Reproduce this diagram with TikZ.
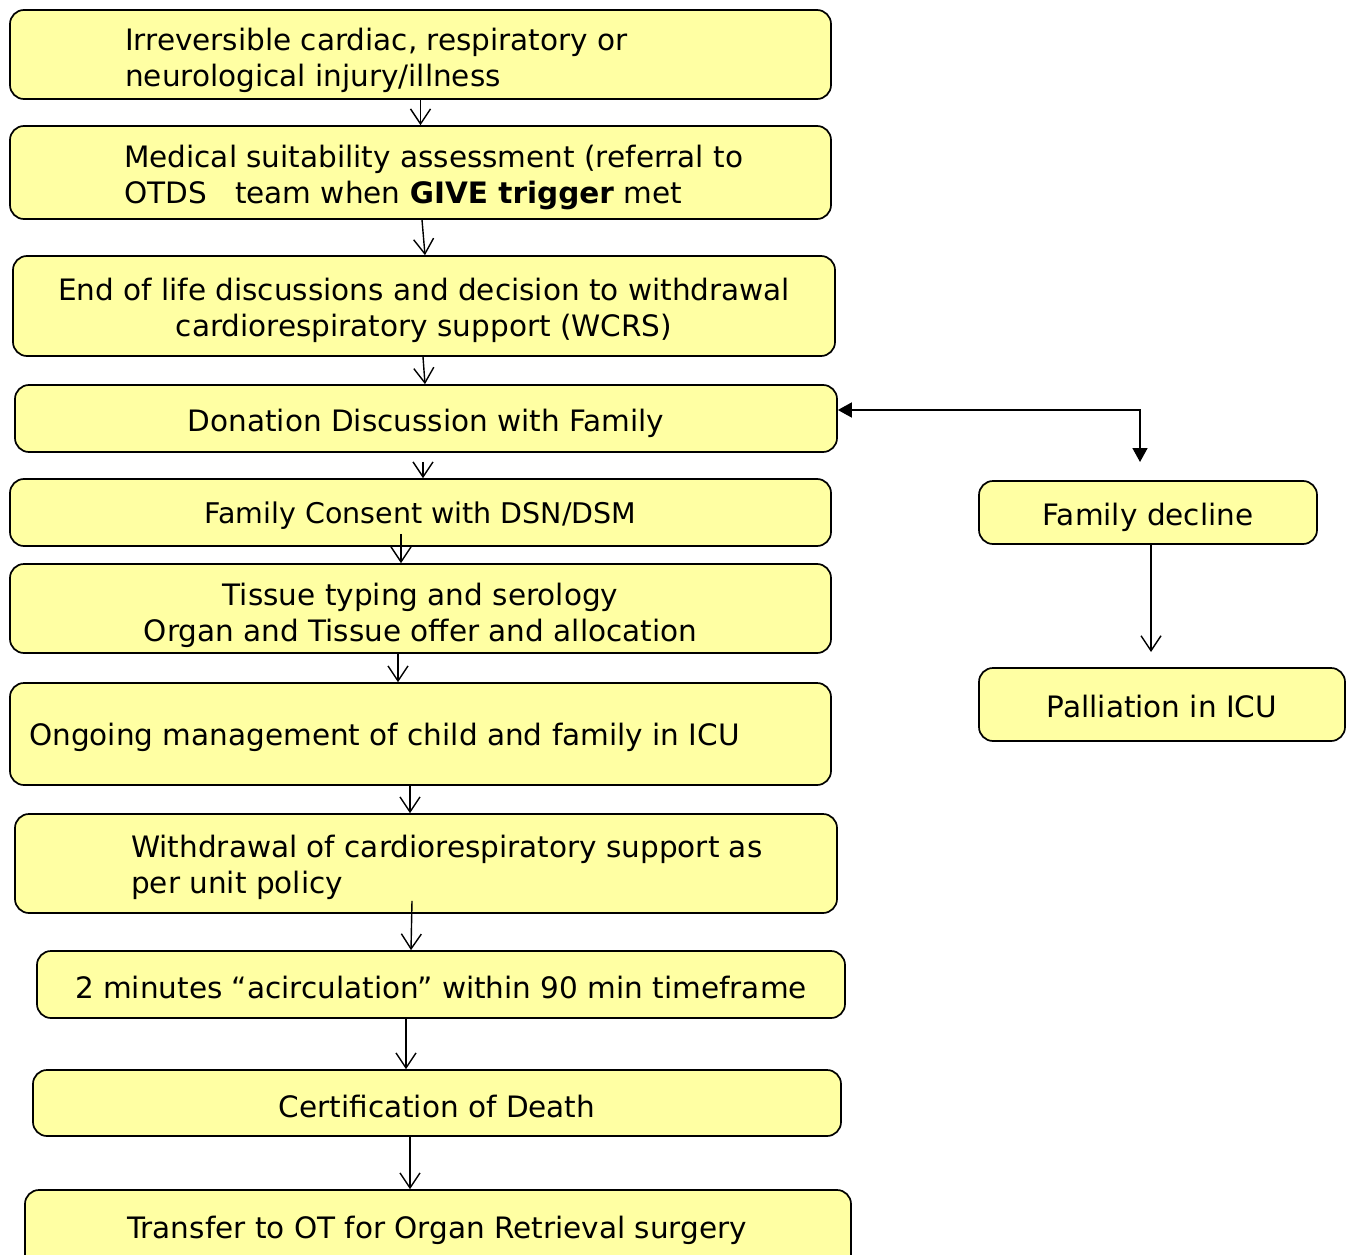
\documentclass[tikz,border=0pt]{standalone}
\usepackage{fontspec}
\setmainfont{DejaVu Sans}
\usetikzlibrary{arrows.meta}
\definecolor{boxfill}{HTML}{FFFFA3}
\tikzset{
  box/.style={draw=black, line width=1.7pt, rounded corners=14pt, fill=boxfill, inner sep=0pt},
  txt/.style={font=\fontsize{29.5}{36}\selectfont, align=left, inner sep=0pt},
  ctxt/.style={font=\fontsize{29.5}{36}\selectfont, align=center, inner sep=0pt},
  arr/.style={line width=1.4pt, -{Straight Barb[length=15pt,width=20pt,line width=1.4pt]}},
  farr/.style={line width=1.6pt, {Triangle[length=14pt,width=15pt]}-{Triangle[length=14pt,width=15pt]}}
}
\begin{document}
\begin{tikzpicture}[x=1pt,y=-1pt]
\useasboundingbox (0,0) rectangle (1353,1255);
\clip (0,0) rectangle (1353,1255);
\node[box, minimum width=821pt, minimum height=89pt] (b1) at (420.5,54.5) {};
\node[txt, anchor=west] (t1) at (125,60) {Irreversible cardiac, respiratory or\\neurological injury/illness};
\node[box, minimum width=821pt, minimum height=93pt] (b2) at (420.5,172.5) {};
\node[txt, anchor=west] (t2) at (124,177) {Medical suitability assessment (referral to\\OTDS\ \ \ team when \textbf{GIVE trigger} met};
\node[box, minimum width=822pt, minimum height=100pt] (b3) at (424,306) {};
\node[ctxt] (t3) at (424,310) {End of life discussions and decision to withdrawal\\cardiorespiratory support (WCRS)};
\node[box, minimum width=822pt, minimum height=67pt] (b4) at (426,418.5) {};
\node[ctxt] (t4) at (426,423.5) {Donation Discussion with Family};
\node[box, minimum width=821pt, minimum height=67pt] (b5) at (420.5,512.5) {};
\node[ctxt, font=\fontsize{28.5}{34}\selectfont] (t5) at (420.5,515.5) {Family Consent with DSN/DSM};
\node[box, minimum width=821pt, minimum height=89pt] (b6) at (420.5,608.5) {};
\node[ctxt] (t6) at (420.5,615) {Tissue typing and serology\\Organ and Tissue offer and allocation};
\node[box, minimum width=821pt, minimum height=102pt] (b7) at (420.5,734) {};
\node[txt, anchor=west] (t7) at (29,737) {Ongoing management of child and family in ICU};
\node[box, minimum width=822pt, minimum height=99pt] (b8) at (426,863.5) {};
\node[txt, anchor=west] (t8) at (131,867) {Withdrawal of cardiorespiratory support as\\per unit policy};
\node[box, minimum width=808pt, minimum height=67pt] (b9) at (441,984.5) {};
\node[ctxt] (t9) at (441,987.5) {2 minutes “acirculation” within 90 min timeframe};
\node[box, minimum width=808pt, minimum height=66pt] (b10) at (437,1103) {};
\node[ctxt] (t10) at (437,1106) {Certification of Death};
\node[box, minimum width=826pt, minimum height=80pt] (b11) at (438,1230) {};
\node[ctxt] (t11) at (437,1230) {Transfer to OT for Organ Retrieval surgery};
\node[box, minimum width=338pt, minimum height=63pt] (b12) at (1148,512.5) {};
\node[ctxt] (t12) at (1148,517) {Family decline};
\node[box, minimum width=366pt, minimum height=73pt] (b13) at (1162,704.5) {};
\node[ctxt] (t13) at (1162,706.5) {Palliation in ICU};
\coordinate (fd) at (1140,462);
\coordinate (pa) at (1151,652);
\draw[arr] (b1.south) -- (b2.north);
\draw[arr] ([xshift=1.5pt]b2.south) -- ([xshift=1pt]b3.north);
\draw[arr] ([xshift=-1pt]b3.south) -- ([xshift=-1pt]b4.north);
\draw[arr] ([xshift=-3pt,yshift=-9pt]b4.south) -- ([xshift=2.5pt]b5.north);
\draw[arr] ([xshift=-19.5pt,yshift=13pt]b5.south) -- ([xshift=-19.5pt]b6.north);
\draw[arr] ([xshift=-22.5pt]b6.south) -- ([xshift=-22.5pt]b7.north);
\draw[arr] ([xshift=-10.5pt]b7.south) -- ([xshift=-16pt]b8.north);
\draw[arr] ([xshift=-14pt,yshift=13pt]b8.south) -- ([xshift=-30pt]b9.north);
\draw[arr] ([xshift=-35pt]b9.south) -- ([xshift=-31pt]b10.north);
\draw[arr] ([xshift=-27pt]b10.south) -- ([xshift=-28pt]b11.north);
\draw[farr] ([yshift=8.5pt]b4.east) -| (fd);
\draw[arr] ([xshift=3pt]b12.south) -- (pa);
\end{tikzpicture}
\end{document}
